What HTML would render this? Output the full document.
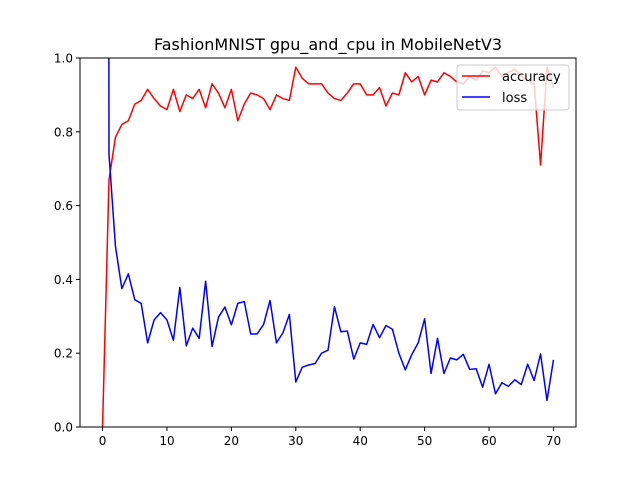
<!DOCTYPE html>
<html><head><meta charset="utf-8">
<style>body{margin:0;background:#fff}svg{display:block;font-family:"DejaVu Sans","Liberation Sans",sans-serif}</style>
</head><body>
<svg id="chart" width="640" height="480"></svg>
<script>
const epochs = Array.from({length:71},(_,i)=>i);
const accuracy = [0.0,0.67,0.785,0.82,0.83,0.875,0.885,0.915,0.89,0.87,0.86,0.915,0.855,0.9,0.89,0.915,0.865,0.93,0.905,0.865,0.915,0.83,0.875,0.905,0.9,0.89,0.86,0.9,0.89,0.885,0.975,0.945,0.93,0.93,0.93,0.905,0.89,0.885,0.905,0.93,0.93,0.9,0.9,0.92,0.87,0.905,0.9,0.96,0.935,0.95,0.9,0.94,0.935,0.96,0.95,0.935,0.93,0.95,0.94,0.965,0.96,0.975,0.95,0.96,0.97,0.95,0.94,0.93,0.71,0.975,0.92];
const loss = [15,0.74,0.49,0.375,0.415,0.345,0.335,0.228,0.29,0.31,0.29,0.235,0.378,0.22,0.268,0.24,0.395,0.218,0.298,0.325,0.277,0.335,0.34,0.252,0.252,0.278,0.343,0.228,0.255,0.305,0.122,0.162,0.168,0.172,0.2,0.208,0.326,0.258,0.26,0.184,0.228,0.224,0.278,0.242,0.275,0.265,0.2,0.155,0.196,0.228,0.293,0.145,0.24,0.145,0.187,0.182,0.197,0.156,0.158,0.108,0.17,0.09,0.12,0.11,0.128,0.115,0.17,0.126,0.198,0.072,0.182];
const xTicks = [0,10,20,30,40,50,60,70];
const yTicks = [0.0,0.2,0.4,0.6,0.8,1.0];

const NS="http://www.w3.org/2000/svg";
const svg=document.getElementById('chart');
const L=80,R=576,T=58,B=427;
const xmin=-3.5,xmax=73.5,ymin=0,ymax=1;
const xs=v=>L+(v-xmin)/(xmax-xmin)*(R-L);
const ys=v=>B-(v-ymin)/(ymax-ymin)*(B-T);
function el(tag,attrs,parent){const e=document.createElementNS(NS,tag);for(const k in attrs)e.setAttribute(k,attrs[k]);(parent||svg).appendChild(e);return e;}

const defs=el('defs',{});
const cp=el('clipPath',{id:'clip'},defs);
el('rect',{x:L,y:T,width:R-L,height:B-T},cp);

const title=el('text',{x:(L+R)/2,y:50,'text-anchor':'middle','font-size':'16'});
title.textContent='FashionMNIST gpu_and_cpu in MobileNetV3';



function series(vals,color,name){
  const p=el('polyline',{points:vals.map((v,i)=>xs(epochs[i])+','+ys(v)).join(' '),fill:'none',stroke:color,'stroke-width':'1.5','clip-path':'url(#clip)','stroke-linejoin':'round'});
  
  
}
series(accuracy,'#ff0000','accuracy-line');
series(loss,'#0000ff','loss-line');

const frame=el('rect',{x:L,y:T,width:R-L,height:B-T,fill:'none',stroke:'#000','stroke-width':'1'});



xTicks.forEach(t=>{
  const x=xs(t);
  const tk=el('line',{x1:x,x2:x,y1:B,y2:B+4,stroke:'#000'});
  
  
  const tx=el('text',{x:x,y:B+18,'text-anchor':'middle','font-size':'12'});
  tx.textContent=t;
  
  
});
yTicks.forEach(t=>{
  const y=ys(t);
  const tk=el('line',{x1:L-4,x2:L,y1:y,y2:y,stroke:'#000'});
  
  
  const tx=el('text',{x:L-7,y:y+4.5,'text-anchor':'end','font-size':'12'});
  tx.textContent=t.toFixed(1);
  
  
});

const lg=el('g',{});


el('rect',{x:457,y:65,width:112,height:45,rx:3,fill:'#fff','fill-opacity':'0.8',stroke:'#ccc'},lg);
[['accuracy','#ff0000',76],['loss','#0000ff',97]].forEach(([n,c,y])=>{
  const ln=el('line',{x1:462,x2:490,y1:y,y2:y,stroke:c,'stroke-width':'1.5'},lg);
  
  
  const tx=el('text',{x:502,y:y+5,'font-size':'13'},lg);
  tx.textContent=n;
  
  
});
</script>
</body></html>
